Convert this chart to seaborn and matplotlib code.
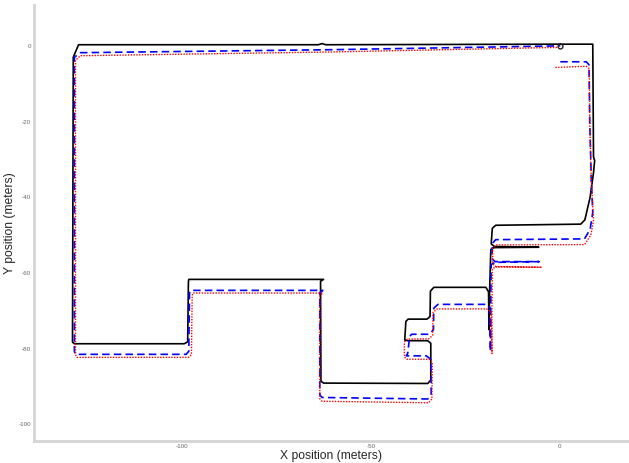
import matplotlib
matplotlib.use("Agg")
import matplotlib.pyplot as plt
import pandas as pd
import seaborn as sns

# Ground truth path (black, solid)
truth_x = [0.1, 8.7, 8.9, 9.2, 8.9, 8.0, 6.6, 5.5, -17.0, -17.9, -18.2, -17.4, -5.6,
           -17.4, -18.3, -18.6, -18.8, -18.9, -19.6, -33.4, -34.3, -34.4, -35.2,
           -40.2, -40.8, -41.1, -40.3, -35.0, -34.2, -34.2, -35.0, -62.6, -63.3,
           -63.4, -62.6, -98.3, -98.4, -98.6, -99.5, -128.6, -129.1, -128.9,
           -127.5, -64.0, -63.0, -62.0, 0.1]
truth_y = [0.45, 0.45, -29.3, -30.3, -33.5, -40.0, -46.0, -47.1, -47.4, -48.2, -52.3,
           -53.0, -53.2, -53.3, -53.8, -64.0, -75.0, -65.0, -63.8, -63.8, -64.8,
           -71.5, -72.2, -72.2, -72.8, -77.7, -77.9, -77.9, -78.6, -88.3, -89.2,
           -89.1, -88.6, -62.2, -61.7, -61.7, -62.3, -78.2, -78.7, -78.7, -78.3,
           -3.0, 0.3, 0.3, 0.6, 0.3, 0.45]

# Estimate 1 (blue, dashed)
est1_x = [0.1, 7.0, 7.7, 7.9, 8.3, 8.7, 8.0, 6.5, -17.0, -17.9, -18.0, -17.2, -5.5,
          -17.2, -18.2, -18.3, -18.4, -18.6, -19.4, -32.3, -33.4, -33.5, -34.6,
          -39.3, -39.8, -40.3, -40.7, -35.4, -34.2, -34.1, -35.0, -63.0, -63.6,
          -63.6, -62.8, -97.8, -98.1, -98.3, -99.0, -128.2, -128.6, -128.6,
          -127.0, -60.0, 0.1]
est1_y = [-4.2, -4.2, -5.0, -20.0, -35.0, -44.0, -48.5, -51.0, -51.2, -52.2, -56.2,
          -57.0, -57.0, -57.2, -57.8, -68.0, -80.7, -69.0, -68.3, -68.3, -69.3,
          -75.0, -76.2, -76.2, -76.8, -81.2, -81.9, -81.9, -82.8, -92.0, -93.3,
          -92.9, -92.2, -65.2, -64.6, -64.6, -65.3, -80.7, -81.5, -81.5, -80.8,
          -3.0, -1.8, -1.0, 0.0]

# Estimate 2 (red, dotted)
est2_x = [-1.2, 7.0, 7.8, 7.9, 8.3, 8.9, 8.2, 6.5, -17.0, -17.8, -17.8, -17.0, -4.8,
          -17.0, -17.9, -18.0, -18.0, -18.2, -19.4, -32.5, -33.6, -33.7, -34.8,
          -40.5, -41.2, -41.2, -40.6, -34.6, -33.8, -33.9, -34.8, -63.0, -63.6,
          -63.6, -62.8, -97.2, -97.4, -97.6, -98.4, -127.9, -128.3, -128.3,
          -127.0, -60.0, -0.5]
est2_y = [-5.7, -5.4, -6.0, -20.0, -35.0, -46.0, -50.0, -52.5, -52.6, -53.4, -57.6,
          -58.3, -58.5, -58.4, -58.9, -70.0, -81.3, -70.3, -69.5, -69.5, -70.4,
          -76.5, -77.4, -77.5, -78.3, -82.2, -82.8, -82.8, -83.6, -93.3, -94.3,
          -93.9, -93.2, -66.0, -65.3, -65.3, -66.0, -81.6, -82.3, -82.3, -81.6,
          -3.8, -2.6, -1.6, -0.4]

x_ticks = [-100, -50, 0]
y_ticks = [0, -20, -40, -60, -80, -100]

sns.set_style("white")
plt.rcParams["font.family"] = ["Liberation Sans", "DejaVu Sans"]

fig = plt.figure(figsize=(6.29, 4.63), dpi=100)
ax = fig.add_axes([34 / 629, 22 / 463, 595 / 629, 436 / 463])

sns.lineplot(x=truth_x, y=truth_y, sort=False, estimator=None, ax=ax,
             color="black", linewidth=1.2)
sns.lineplot(x=est1_x, y=est1_y, sort=False, estimator=None, ax=ax,
             color="#0000ff", linewidth=1.2, linestyle=(0, (4.5, 2.5)))
sns.lineplot(x=est2_x, y=est2_y, sort=False, estimator=None, ax=ax,
             color="#ff0000", linewidth=1.0, linestyle=(0, (1, 1)))
ax.plot([truth_x[0]], [0.0], marker="o", markersize=3.5, markerfacecolor="none",
        markeredgecolor="#222222", markeredgewidth=1.0)

ax.set_xlim(-139.3, 18.3)
ax.set_ylim(-104.4, 10.8)
ax.set_xticks(x_ticks)
ax.set_yticks(y_ticks)
ax.set_xticklabels([str(v) for v in x_ticks])
ax.set_yticklabels([str(v) for v in y_ticks])

for side in ["top", "right"]:
    ax.spines[side].set_visible(False)
for side in ["left", "bottom"]:
    ax.spines[side].set_color("#d4d4d4")
    ax.spines[side].set_linewidth(2.0)
ax.tick_params(direction="in", length=6, width=0.8, color="#8c8c8c",
               labelsize=4.5, labelcolor="#666666", pad=2)

ax.set_xlabel("X position (meters)", fontsize=8.7, color="#262626", labelpad=1)
ax.set_ylabel("Y position (meters)", fontsize=8.7, color="#262626", labelpad=2)

fig.savefig("out.png", dpi=100)
